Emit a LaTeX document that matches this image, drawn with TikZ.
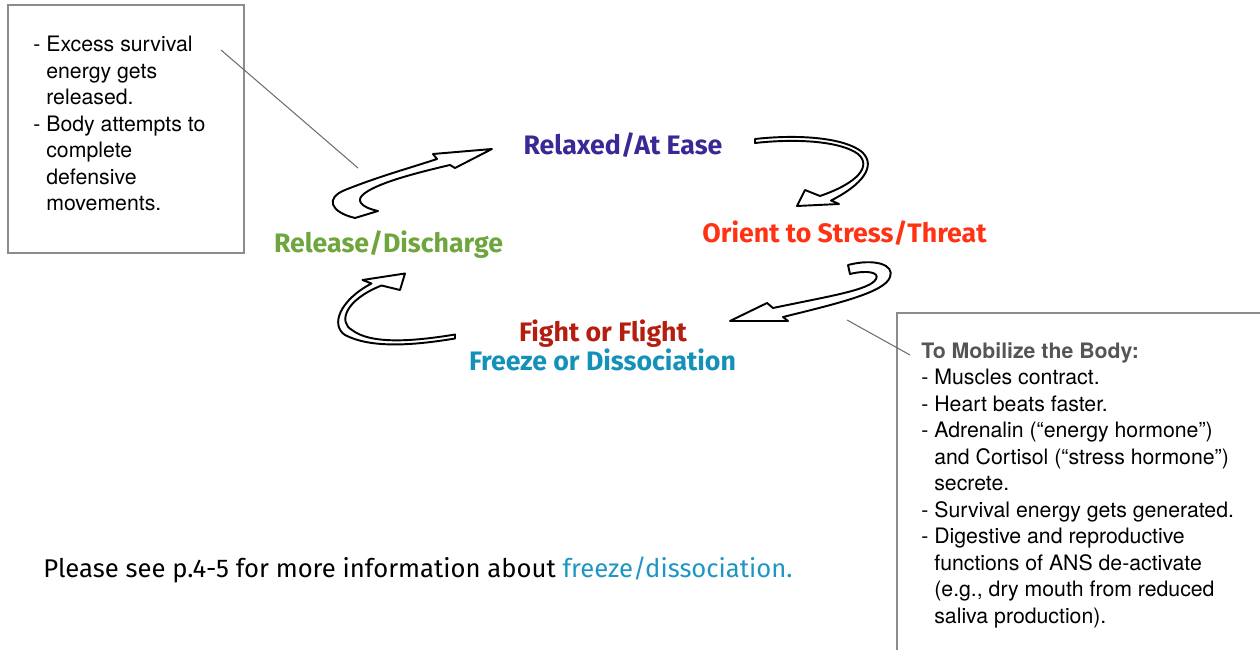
\documentclass[tikz,border=0pt]{standalone}
\usepackage{fontspec}
\setmainfont{TeX Gyre Heros}
\newfontfamily\firafont{Fira Sans}
\usepackage{tikz}
\definecolor{relaxcol}{RGB}{58,40,150}
\definecolor{orientcol}{RGB}{255,50,20}
\definecolor{releasecol}{RGB}{110,165,60}
\definecolor{fightcol}{RGB}{180,30,15}
\definecolor{freezecol}{RGB}{20,145,185}
\definecolor{linkcol}{RGB}{30,150,195}
\definecolor{headcol}{RGB}{85,85,85}
\definecolor{boxgray}{RGB}{140,140,140}
\definecolor{linegray}{RGB}{110,110,110}
\pgfdeclarelayer{nodelayer}
\pgfdeclarelayer{edgelayer}
\pgfsetlayers{edgelayer,nodelayer,main}
\tikzstyle{stage}=[font=\firafont\bfseries\fontsize{15.2}{17}\selectfont, anchor=base, inner sep=0pt]
\tikzstyle{note}=[font=\fontsize{12.1}{15.05}\selectfont, anchor=base west, align=left, inner sep=0pt]
\tikzstyle{remark}=[font=\firafont\fontsize{14.6}{16}\selectfont, anchor=base west, inner sep=0pt]
\tikzset{hollow/.style={draw=black, fill=white, line width=1.1pt, line join=round}}
\tikzset{frame/.style={draw=boxgray, line width=1.1pt}}
\tikzset{leader/.style={draw=linegray, line width=0.6pt}}
\newcommand{\ind}{\phantom{-\ }}

\begin{document}
\begin{tikzpicture}
	\useasboundingbox (0, 0) rectangle (25.2, -13);
	\begin{pgfonlayer}{nodelayer}
		\node [style=stage, text=relaxcol] (0) at (12.46, -3.1) {Relaxed/At Ease};
		\node [style=stage, text=orientcol] (1) at (16.89, -4.86) {Orient to Stress/Threat};
		\node [style=stage, text=fightcol] (2) at (12.06, -6.84) {Fight or Flight};
		\node [style=stage, text=freezecol] (3) at (12.05, -7.42) {Freeze or Dissociation};
		\node [style=stage, text=releasecol] (4) at (7.77, -5.06) {Release/Discharge};
		% multi-line notes sit on their last line
		\node [style=note] (5) at (0.66, -4.21) {-\ Excess survival\\ \ind energy gets\\ \ind released.\\ -\ Body attempts to\\ \ind complete\\ \ind defensive\\ \ind movements.};
		\node [style=note] (6) at (18.42, -12.46) {\textcolor{headcol}{\bfseries To Mobilize the Body:}\\ -\ Muscles contract.\\ -\ Heart beats faster.\\ -\ Adrenalin (“energy hormone”)\\ \ind and Cortisol (“stress hormone”)\\ \ind secrete.\\ -\ Survival energy gets generated.\\ -\ Digestive and reproductive\\ \ind functions of ANS de-activate\\ \ind (e.g., dry mouth from reduced\\ \ind saliva production).};
		\node [style=remark] (7) at (0.86, -11.54) {Please see p.4-5 for more information about \textcolor{linkcol}{freeze/dissociation.}};
		\coordinate (8) at (4.42, -1.0);
		\coordinate (9) at (7.16, -3.36);
		\coordinate (10) at (16.94, -6.4);
		\coordinate (11) at (18.2, -7.1);
	\end{pgfonlayer}
	\begin{pgfonlayer}{edgelayer}
		% boxes
		\draw [style=frame] (0.16, -0.1) rectangle (4.88, -5.06);
		\draw [style=frame] (25.4, -6.26) -- (17.94, -6.26) -- (17.94, -13.2);
		\draw [style=leader] (8) to (9);
		\draw [style=leader] (10) to (11);
		% release -> relaxed
		\draw [style=hollow] (7.1, -4.36) .. controls (6.6, -4.24) and (6.5, -3.96) .. (6.9, -3.8)
			.. controls (7.6, -3.52) and (8.2, -3.36) .. (8.74, -3.18)
			-- (8.66, -3.08) -- (9.84, -2.98) -- (9.1, -3.36) -- (9, -3.3)
			.. controls (8.4, -3.44) and (7.6, -3.64) .. (7.3, -3.86)
			.. controls (7.1, -4) and (7.2, -4.14) .. (7.56, -4.22) -- cycle;
		% relaxed -> orient
		\draw [style=hollow] (15.1, -2.78) .. controls (16, -2.68) and (16.9, -2.76) .. (17.24, -3.04)
			.. controls (17.54, -3.32) and (17.24, -3.7) .. (16.62, -4.01)
			-- (16.78, -4.08) -- (15.94, -4.12) -- (16.1, -3.8) -- (16.4, -3.92)
			.. controls (17.16, -3.66) and (17.44, -3.32) .. (17.16, -3.08)
			.. controls (16.84, -2.84) and (16, -2.76) .. (15.1, -2.86) -- cycle;
		% orient -> fight
		\draw [style=hollow] (16.96, -5.3) .. controls (17.5, -5.16) and (17.9, -5.3) .. (17.8, -5.54)
			.. controls (17.7, -5.84) and (16.8, -6.06) .. (15.66, -6.34)
			-- (15.76, -6.42) -- (14.6, -6.42) -- (15.34, -6.06) -- (15.46, -6.16)
			.. controls (16.6, -5.92) and (17.4, -5.8) .. (17.52, -5.58)
			.. controls (17.6, -5.44) and (17.32, -5.4) .. (17, -5.48) -- cycle;
		% fight -> release
		\draw [style=hollow] (9.1, -6.77) .. controls (8.2, -6.92) and (7.4, -6.96) .. (6.9, -6.7)
			.. controls (6.6, -6.5) and (6.8, -6) .. (7.43, -5.67)
			-- (7.25, -5.6) -- (8.1, -5.47) -- (8, -5.8) -- (7.63, -5.71)
			.. controls (6.9, -6) and (6.76, -6.44) .. (7.04, -6.6)
			.. controls (7.4, -6.88) and (8.2, -6.84) .. (9.1, -6.69) -- cycle;
	\end{pgfonlayer}
\end{tikzpicture}
\end{document}
